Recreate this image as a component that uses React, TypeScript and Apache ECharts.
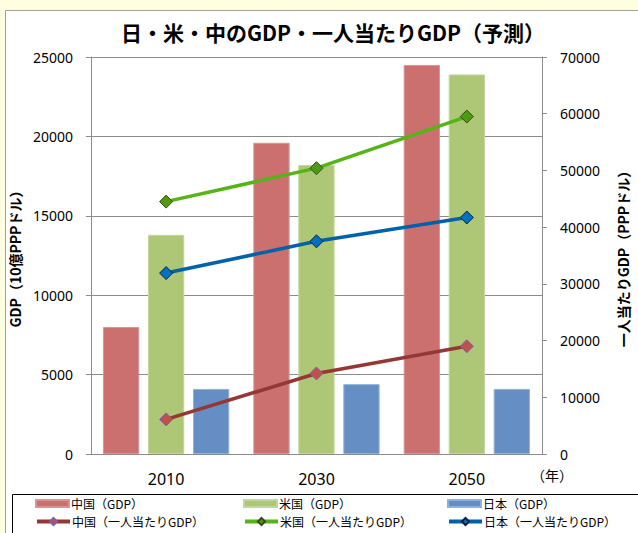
import React, { useEffect, useRef } from "react";
import * as echarts from "echarts";

const categories = ["2010", "2030", "2050"];
const chinaGDP = [8000, 19600, 24500];
const usaGDP = [13800, 18200, 23900];
const japanGDP = [4100, 4400, 4100];
const chinaPerCapita = [6100, 14200, 19000];
const usaPerCapita = [44500, 50400, 59500];
const japanPerCapita = [31900, 37500, 41700];
const leftTicks = [0, 5000, 10000, 15000, 20000, 25000];
const rightTicks = [0, 10000, 20000, 30000, 40000, 50000, 60000, 70000];

const JP = "'Noto Sans CJK JP', sans-serif";
const NUM = "'Noto Sans', 'Noto Sans CJK JP', sans-serif";

export default function App() {
  const ref = useRef<HTMLDivElement>(null);
  useEffect(() => {
    if (!ref.current) return;
    const chart = echarts.init(ref.current, null, { renderer: "svg" });
    const legendText = { fontFamily: JP, fontSize: 12, lineHeight: 15, color: "#000" };
    const mkLegend = (left: number, top: number, name: string, isBar: boolean) => ({
      left,
      top,
      orient: "horizontal",
      itemWidth: 33,
      itemHeight: isBar ? 7 : 9,
      itemGap: 0,
      padding: 0,
      textStyle: { ...legendText, padding: [0, 0, 0, -3] },
      selectedMode: false,
      data: [isBar ? { name, icon: "rect" } : { name, lineStyle: { width: 4 } }],
    });
    const fmt = (v: number) => String(v);
    chart.setOption({
      animation: false,
      backgroundColor: "#FFFEE0",
      title: {
        text: "日・米・中のGDP・一人当たりGDP（予測）",
        left: 328,
        textAlign: "center",
        top: 16,
        textStyle: { fontFamily: JP, fontSize: 21, fontWeight: "bold", color: "#000" },
      },
      graphic: [
        {
          type: "rect",
          z: -10,
          shape: { x: 5.5, y: 10.5, width: 700, height: 600 },
          style: { fill: "#fff", stroke: "#A0A0A0", lineWidth: 1 },
        },
        {
          type: "rect",
          z: -5,
          shape: { x: 12.5, y: 494.5, width: 700, height: 100 },
          style: { fill: "#fff", stroke: "#000", lineWidth: 1 },
        },
        {
          type: "text",
          left: 531,
          top: 468,
          style: { text: "（年）", font: `14px ${JP}`, fill: "#000" },
        },
      ],
      legend: [
        mkLegend(35, 496, "中国（GDP）", true),
        mkLegend(35, 514, "中国（一人当たりGDP）", false),
        mkLegend(243, 496, "米国（GDP）", true),
        mkLegend(243, 514, "米国（一人当たりGDP）", false),
        mkLegend(447, 496, "日本（GDP）", true),
        mkLegend(447, 514, "日本（一人当たりGDP）", false),
      ],
      grid: { left: 90, right: 85, top: 57, bottom: 79, containLabel: false },
      xAxis: {
        type: "category",
        data: categories,
        axisLine: { lineStyle: { color: "#8C8C8C", width: 1 } },
        axisTick: { show: false },
        axisLabel: { fontFamily: NUM, fontSize: 16, color: "#000", margin: 17 },
      },
      yAxis: [
        {
          type: "value",
          min: 0,
          max: 25000,
          interval: 5000,
          name: "GDP（10億PPPドル）",
          nameLocation: "middle",
          nameGap: 67,
          nameRotate: 90,
          nameTextStyle: { fontFamily: JP, fontSize: 14, fontWeight: "bold", color: "#000" },
          axisLine: { show: true, lineStyle: { color: "#8C8C8C" } },
          axisTick: { show: true, length: 5, lineStyle: { color: "#8C8C8C" } },
          axisLabel: {
            fontFamily: NUM,
            fontSize: 14,
            color: "#000",
            margin: 18,
            formatter: fmt,
            customValues: leftTicks,
          },
          splitLine: { lineStyle: { color: "#8C8C8C", width: 1 } },
        },
        {
          type: "value",
          min: 0,
          max: 70000,
          interval: 10000,
          name: "一人当たりGDP（PPPドル）",
          nameLocation: "middle",
          nameGap: 74,
          nameRotate: 90,
          nameTextStyle: { fontFamily: JP, fontSize: 14, fontWeight: "bold", color: "#000" },
          axisLine: { show: true, lineStyle: { color: "#8C8C8C" } },
          axisTick: { show: true, length: 5, lineStyle: { color: "#8C8C8C" } },
          axisLabel: {
            fontFamily: NUM,
            fontSize: 14,
            color: "#000",
            margin: 18,
            formatter: fmt,
            customValues: rightTicks,
          },
          splitLine: { show: false },
        },
      ],
      series: [
        {
          name: "中国（GDP）",
          type: "bar",
          data: chinaGDP,
          barGap: "24%",
          barCategoryGap: "16%",
          itemStyle: { color: "#CC6F6F", borderColor: "#D99595", borderWidth: 1 },
        },
        {
          name: "米国（GDP）",
          type: "bar",
          data: usaGDP,
          barGap: "24%",
          barCategoryGap: "16%",
          itemStyle: { color: "#ADC776", borderColor: "#C3D79C", borderWidth: 1 },
        },
        {
          name: "日本（GDP）",
          type: "bar",
          data: japanGDP,
          barGap: "24%",
          barCategoryGap: "16%",
          itemStyle: { color: "#658FC4", borderColor: "#93B1D8", borderWidth: 1 },
        },
        {
          name: "中国（一人当たりGDP）",
          type: "line",
          yAxisIndex: 1,
          data: chinaPerCapita,
          symbol: "diamond",
          symbolSize: 13,
          lineStyle: { color: "#953735", width: 3.5 },
          itemStyle: { color: "#C0504D", borderColor: "#7F60A8", borderWidth: 1 },
          z: 5,
        },
        {
          name: "米国（一人当たりGDP）",
          type: "line",
          yAxisIndex: 1,
          data: usaPerCapita,
          symbol: "diamond",
          symbolSize: 13,
          lineStyle: { color: "#55B416", width: 3.5 },
          itemStyle: { color: "#4E9A10", borderColor: "#3A4A20", borderWidth: 1 },
          z: 5,
        },
        {
          name: "日本（一人当たりGDP）",
          type: "line",
          yAxisIndex: 1,
          data: japanPerCapita,
          symbol: "diamond",
          symbolSize: 13,
          lineStyle: { color: "#0062A8", width: 3.5 },
          itemStyle: { color: "#0070C0", borderColor: "#102040", borderWidth: 1 },
          z: 5,
        },
      ],
    });
    return () => chart.dispose();
  }, []);
  return (
    <div
      ref={ref}
      style={{ position: "absolute", left: 0, top: 0, width: 638, height: 533 }}
    />
  );
}
